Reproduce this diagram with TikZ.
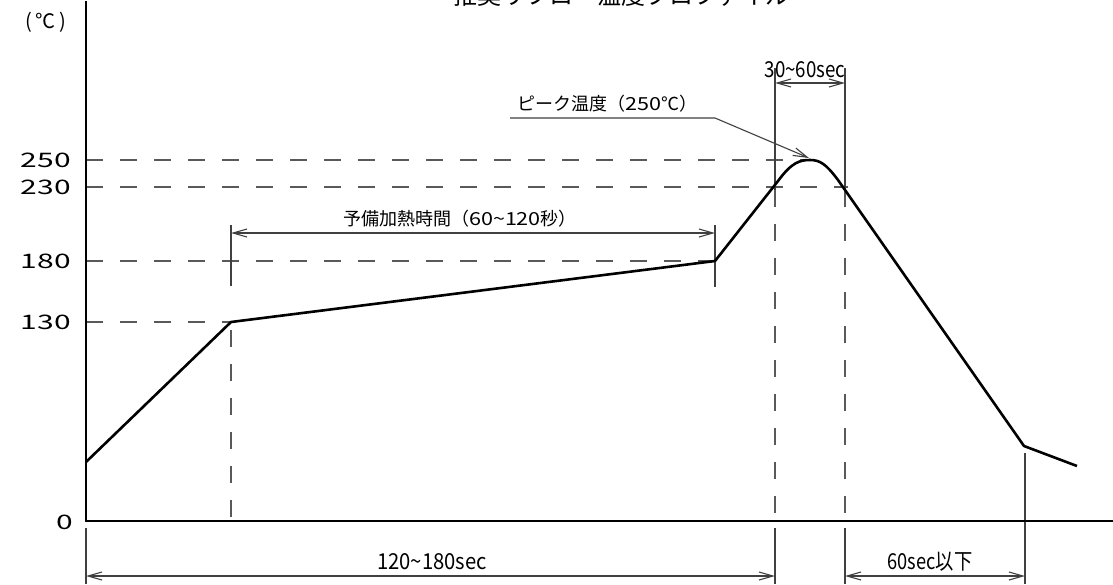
\documentclass[tikz,border=0pt]{standalone}
\usepackage{fontspec}
\setmainfont{Noto Sans CJK JP}
\usetikzlibrary{arrows.meta}
\newcommand\widedig[1]{\scalebox{1.2}[1]{#1}}
\newcommand\tickdig[1]{\scalebox{1.5}[1]{#1}}
\begin{document}
\begin{tikzpicture}[x=1pt,y=-1pt,
  thick line/.style={line width=2.6pt,line join=round},
  thin line/.style={line width=1.1pt,draw=black!75},
  dash line/.style={line width=1.3pt,draw=black!65,dash pattern=on 17pt off 17pt},
  dimarrow/.style={thin line,{Straight Barb[length=14pt,width=8pt]}-{Straight Barb[length=14pt,width=8pt]}},
  lab/.style={inner sep=0pt,font=\fontsize{18}{18}\selectfont},
  seclab/.style={inner sep=0pt,anchor=base,font=\fontsize{22}{22}\selectfont},
  tick/.style={inner sep=0pt,anchor=east,font=\fontsize{20}{20}\selectfont}]
\useasboundingbox[fill=white] (0,0) rectangle (1113,584);
% coordinates
\coordinate (o) at (86,521);
\coordinate (ytop) at (86,2);
\coordinate (xend) at (1113,521);
\coordinate (p0) at (86,462);
\coordinate (p1) at (231,322);
\coordinate (p2) at (715,261);
\coordinate (p3) at (778,181);
\coordinate (pk) at (810,160);
\coordinate (p4) at (838,180);
\coordinate (p5) at (1024,446);
\coordinate (p6) at (1077,466);
% title (cut off at the top edge, as in the reference)
\node[inner sep=0pt,anchor=base,font=\fontsize{24}{24}\selectfont] (title) at (621,4) {推奨リフロー温度プロファイル};
% unit
\node[inner sep=0pt,font=\fontsize{20}{20}\selectfont] (unit) at (46,22) {(\,℃\,)};
% dashed reference lines
\draw[dash line] (86,160) -- (808,160);
\draw[dash line] (86,187) -- (848,187);
\draw[dash line] (86,261) -- (715,261);
\draw[dash line] (86,322) -- (231,322);
\draw[dash line] (231,330) -- (231,521);
\draw[dash line] (775,190) -- (775,521);
\draw[dash line] (845,190) -- (845,521);
% extension lines (solid thin)
\draw[thin line] (231,225) -- (231,286);
\draw[thin line] (715,225) -- (715,287);
\draw[thin line] (775,68) -- (775,190);
\draw[thin line] (845,68) -- (845,190);
\draw[thin line] (86,528) -- (86,584);
\draw[thin line] (775,528) -- (775,584);
\draw[thin line] (845,528) -- (845,584);
\draw[thin line] (1025,453) -- (1025,584);
% dimension arrows
\draw[dimarrow] (231,233) -- (715,233);
\draw[dimarrow] (775,83) -- (845,83);
\draw[dimarrow] (86,576) -- (775,576);
\draw[dimarrow] (845,576) -- (1025,576);
% leader for peak
\coordinate (ld0) at (510,118);
\coordinate (ld1) at (715,118);
\draw[thin line,-{Straight Barb[length=14pt,width=8pt]}] (ld0) -- (ld1) -- (809,158);
% labels
\node[lab,anchor=base west] (peaklab) at (517,110) {ピーク温度（\widedig{250}℃）};
\node[lab,anchor=base] (prelab) at (460,225) {予備加熱時間（\widedig{60\textasciitilde120}秒）};
\node[seclab] (l3060) at (805,77) {\scalebox{0.85}[1]{30\textasciitilde60sec}};
\node[seclab] (l120) at (432,569) {\scalebox{0.92}[1]{120\textasciitilde180sec}};
\node[seclab] (l60) at (930,569) {\scalebox{0.83}[1]{60sec以下}};
% y ticks
\node[tick] (t250) at (71,160) {\tickdig{250}};
\node[tick] (t230) at (71,187) {\tickdig{230}};
\node[tick] (t180) at (71,261) {\tickdig{180}};
\node[tick] (t130) at (71,322) {\tickdig{130}};
\node[tick] (t0) at (73,522) {\tickdig{0}};
% profile curve
\draw[thick line] (p0) -- (p1) -- (p2) -- (p3) .. controls (792,162) and (800,160) .. (pk) .. controls (820,160) and (826,164) .. (p4) -- (p5) -- (p6);
% axes
\draw[line width=2.6pt,line cap=rect] (ytop) -- (o) -- (xend);
\end{tikzpicture}
\end{document}
